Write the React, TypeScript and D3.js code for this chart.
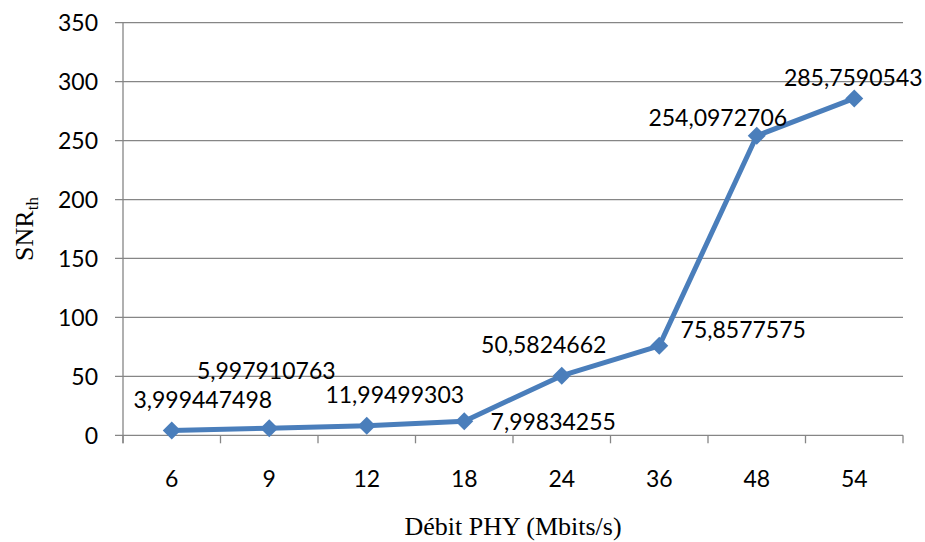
import React from "react";
import * as d3 from "d3";

const categories = ["6", "9", "12", "18", "24", "36", "48", "54"];
const snrValues = [3.999447498, 5.997910763, 7.99834255, 11.99499303, 50.5824662, 75.8577575, 254.0972706, 285.7590543];
const pointLabels = ["3,999447498", "5,997910763", "11,99499303", "7,99834255", "50,5824662", "75,8577575", "254,0972706", "285,7590543"];
const yTicks = [0, 50, 100, 150, 200, 250, 300, 350];

// where each data label sits relative to its point (centre x, baseline y)
const labelOffsets = [
  [31, -23], [-3, -49], [28, -23], [89, 9],
  [-18, -23], [84, -8], [-39, -10], [-1, -12],
];

const width = 925;
const height = 542;
const margin = { top: 22.7, right: 22, bottom: 106.7, left: 123 };
const lineColor = "#4a7ebb";
const gridColor = "#868686";
const sansFont = "Lato, 'Open Sans', sans-serif";
const serifFont = "'Liberation Serif', 'Times New Roman', serif";

const App = () => {
  const x = d3
    .scaleBand()
    .domain(categories)
    .range([margin.left, width - margin.right]);
  const y = d3
    .scaleLinear()
    .domain([0, 350])
    .range([height - margin.bottom, margin.top]);

  const cx = (i: number) => (x(categories[i]) as number) + x.bandwidth() / 2;
  const line = d3
    .line<number>()
    .x((d, i) => cx(i))
    .y(d => y(d));

  const y0 = y(0);
  const boundaries = categories.map(c => x(c) as number).concat([width - margin.right]);

  return (
    <svg width={width} height={height} style={{ position: "absolute", left: 0, top: 0, background: "#fff" }}>
      {yTicks.map(t => (
        <g key={t}>
          <line x1={margin.left - 8} x2={width - margin.right} y1={y(t)} y2={y(t)} stroke={gridColor} strokeWidth={1.3} />
          <text x={98} y={y(t)} dy="0.36em" textAnchor="end" fontFamily={sansFont} fontSize={23} fill="#000">
            {t}
          </text>
        </g>
      ))}
      <line x1={margin.left} x2={margin.left} y1={margin.top} y2={y0 + 8} stroke={gridColor} strokeWidth={1.3} />
      {boundaries.map((b, i) => (
        <line key={i} x1={b} x2={b} y1={y0} y2={y0 + 8} stroke={gridColor} strokeWidth={1.3} />
      ))}
      {categories.map((c, i) => (
        <text key={c} x={cx(i)} y={487} textAnchor="middle" fontFamily={sansFont} fontSize={23} fill="#000">
          {c}
        </text>
      ))}
      <path d={line(snrValues) || ""} fill="none" stroke={lineColor} strokeWidth={5} strokeLinejoin="round" />
      {snrValues.map((v, i) => (
        <path
          key={i}
          d="M0,-9L9,0L0,9L-9,0Z"
          transform={`translate(${cx(i)},${y(v)})`}
          fill={lineColor}
        />
      ))}
      {snrValues.map((v, i) => (
        <text
          key={i}
          x={cx(i) + labelOffsets[i][0]}
          y={y(v) + labelOffsets[i][1]}
          textAnchor="middle"
          fontFamily={sansFont}
          fontSize={23}
          fill="#000"
        >
          {pointLabels[i]}
        </text>
      ))}
      <text x={513} y={535} textAnchor="middle" fontFamily={serifFont} fontSize={26} fill="#000">
        Débit PHY (Mbits/s)
      </text>
      <text
        transform={`translate(33,${(margin.top + y0) / 2}) rotate(-90)`}
        textAnchor="middle"
        fontFamily={serifFont}
        fontSize={26}
        fill="#000"
      >
        SNR<tspan fontSize={17} dy={5}>th</tspan>
      </text>
    </svg>
  );
};

export default App;
